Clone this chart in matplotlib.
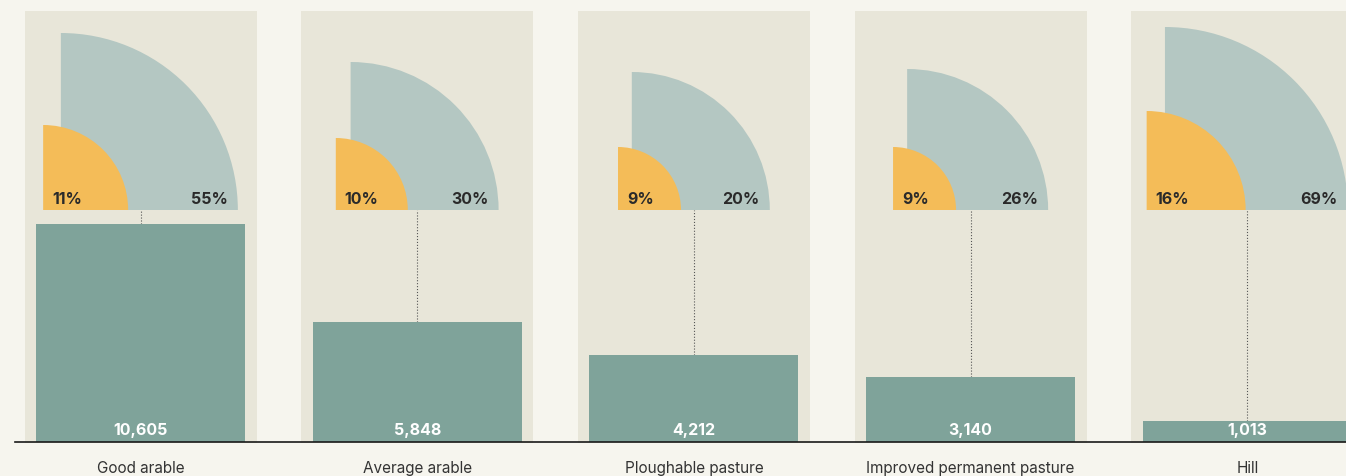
import matplotlib.pyplot as plt
from matplotlib.patches import Wedge, Rectangle
from matplotlib import transforms

plt.rcParams['font.family'] = ['Inter', 'DejaVu Sans']

categories = ["Good arable", "Average arable", "Ploughable pasture",
              "Improved permanent pasture", "Hill"]
values = [10605, 5848, 4212, 3140, 1013]
inner_pct = [11, 10, 9, 9, 16]
outer_pct = [55, 30, 20, 26, 69]
# quarter-circle sizes as drawn in the original (pixels)
inner_size = [85, 72, 63, 63, 99]
outer_size = [177, 148, 138, 141, 183]

BG = "#f6f5ee"
PANEL = "#e8e6d9"
BAR = "#7fa39a"
GREY = "#b4c7c2"
ORANGE = "#f4bc58"
INK = "#2a2a2a"

W, H = 1346, 477
fig = plt.figure(figsize=(W / 100, H / 100), dpi=100, facecolor=BG)
ax = fig.add_axes([0, 0, 1, 1])
ax.axis('off')

# layout in pixels
step = 276.7          # distance between panels
first = 140.5         # centre of the first panel
base = 34             # axis line, from the bottom
px_per_val = 218 / max(values)

x = list(range(len(categories)))
ax.set_xlim(-first / step, (W - first) / step)
ax.set_ylim(-base / px_per_val, (H - base) / px_per_val)

trans = transforms.blended_transform_factory(ax.transData, ax.transAxes)
wedge_y = (H - 211) / H
wedge_val = ax.get_ylim()[0] + wedge_y * (ax.get_ylim()[1] - ax.get_ylim()[0])

for i in x:
    ax.add_patch(Rectangle((i - 116 / step, (base - 1) / H), 232 / step,
                           (H - 12 - base + 1) / H, transform=trans,
                           color=PANEL, lw=0, zorder=0))

ax.bar(x, values, width=209 / step, color=BAR, zorder=2)

for i in x:
    R, r = outer_size[i], inner_size[i]
    left = -1.1 * R / 2
    gx = left + 0.1 * R
    anchor = transforms.ScaledTranslation(i, wedge_y, trans)
    ax.add_patch(Wedge((gx, 0), R, 0, 90, transform=anchor, color=GREY, lw=0, zorder=3))
    ax.add_patch(Wedge((left, 0), r, 0, 90, transform=anchor, color=ORANGE, lw=0, zorder=4))
    ax.annotate(f"{inner_pct[i]}%", xy=(i, wedge_y), xycoords=trans,
                xytext=(left + 9, 7), textcoords='offset pixels',
                ha='left', va='baseline', fontsize=11.5, fontweight='bold',
                color=INK, zorder=5)
    ax.annotate(f"{outer_pct[i]}%", xy=(i, wedge_y), xycoords=trans,
                xytext=(gx + R - 10, 7), textcoords='offset pixels',
                ha='right', va='baseline', fontsize=11.5, fontweight='bold',
                color=INK, zorder=5)
    ax.annotate(f"{values[i]:,}", xy=(i, 0), xytext=(0, 8),
                textcoords='offset pixels', ha='center', va='baseline',
                fontsize=11.5, fontweight='bold', color='white', zorder=5)
    ax.annotate(categories[i], xy=(i, 0), xytext=(0, -30),
                textcoords='offset pixels', ha='center', va='baseline',
                fontsize=11, color='#333333')

ax.vlines(x, values, wedge_val, colors='#555555', linestyles=':', lw=0.8, zorder=1)
ax.axhline(0, xmin=15 / W, color='#1a1a1a', lw=1.2, zorder=6)

fig.savefig("out.png", dpi=100, facecolor=BG)
